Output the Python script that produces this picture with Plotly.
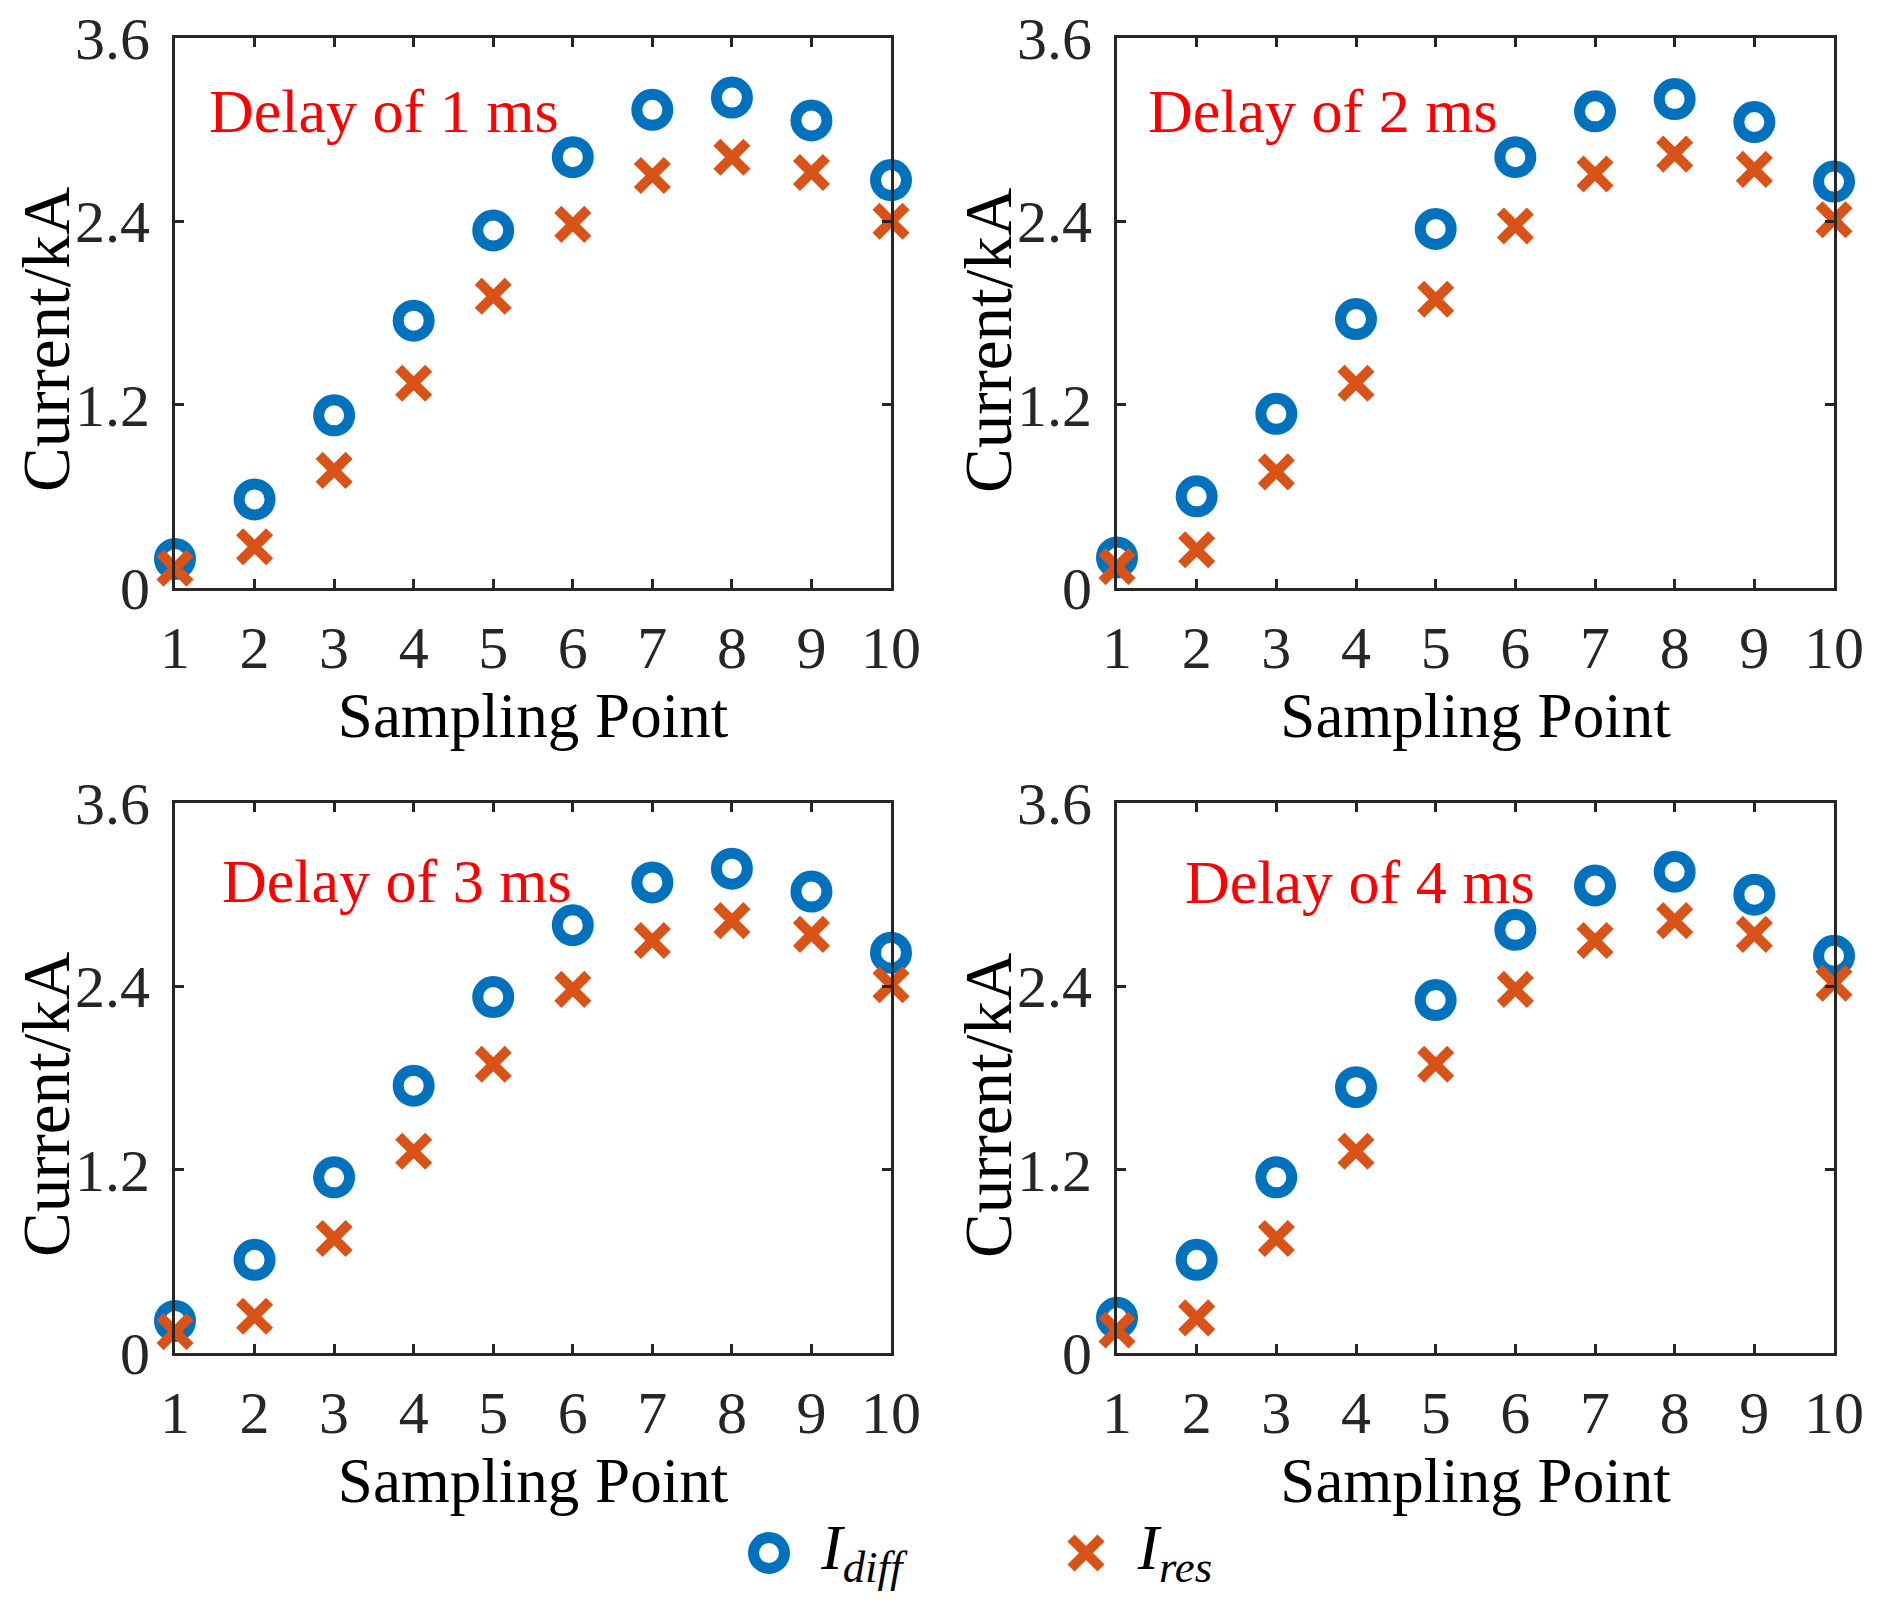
import plotly.graph_objects as go

sampling_points = [1, 2, 3, 4, 5, 6, 7, 8, 9, 10]
y_ticks = [0, 1.2, 2.4, 3.6]
y_tick_labels = ["0", "1.2", "2.4", "3.6"]
panel_titles = ["Delay of 1 ms", "Delay of 2 ms", "Delay of 3 ms", "Delay of 4 ms"]
x_title = "Sampling Point"
y_title = "Current/kA"
series_keys = ["Idiff", "Ires"]
series_labels = ["&nbsp;&nbsp;<i>I</i><sub><i>diff</i></sub>", "&nbsp;&nbsp;<i>I</i><sub><i>res</i></sub>"]

idiff_1ms = [0.19, 0.58, 1.13, 1.75, 2.34, 2.82, 3.13, 3.21, 3.06, 2.67]
ires_1ms = [0.13, 0.27, 0.77, 1.34, 1.91, 2.38, 2.70, 2.82, 2.72, 2.40]
idiff_2ms = [0.20, 0.60, 1.14, 1.76, 2.35, 2.82, 3.12, 3.20, 3.05, 2.66]
ires_2ms = [0.14, 0.25, 0.76, 1.34, 1.89, 2.37, 2.71, 2.84, 2.74, 2.41]
idiff_3ms = [0.21, 0.61, 1.15, 1.75, 2.33, 2.80, 3.08, 3.17, 3.02, 2.62]
ires_3ms = [0.14, 0.24, 0.75, 1.32, 1.89, 2.38, 2.70, 2.83, 2.74, 2.41]
idiff_4ms = [0.23, 0.61, 1.15, 1.74, 2.31, 2.77, 3.06, 3.15, 3.00, 2.60]
ires_4ms = [0.15, 0.23, 0.75, 1.32, 1.89, 2.38, 2.70, 2.83, 2.74, 2.42]

idiff_all = [idiff_1ms, idiff_2ms, idiff_3ms, idiff_4ms]
ires_all = [ires_1ms, ires_2ms, ires_3ms, ires_4ms]

# annotation anchor (data coords) for each panel label
label_x = [1.40, 1.36, 1.56, 1.83]
label_y = [3.12, 3.12, 3.09, 3.08]

BLUE = "#0072BD"
ORANGE = "#D95319"
AX = "#262626"
FONT = "Liberation Serif"

# the page body adds an 8 px margin, so the figure is placed inside it
OFF = 8
W, H = 1880 - 2 * OFF, 1621 - 2 * OFF


def px_x(v):
    return (v - OFF) / W


def px_y(v):
    return 1 - (v - OFF) / H


x_domains = [(px_x(175), px_x(891)), (px_x(1117), px_x(1834))]
y_domains = [(px_y(588), px_y(38)), (px_y(1353), px_y(803))]
y_title_pos = [px_y(340), px_y(1105)]
y_title_x = [px_x(46), px_x(1117 - 175 + 46)]

circle_marker = dict(symbol="circle-open", size=31, color=BLUE, line=dict(width=11, color=BLUE))
cross_marker = dict(symbol="x-thin-open", size=30, color=ORANGE, line=dict(width=10, color=ORANGE))

fig = go.Figure()
layout = {}
annotations = []
for i in range(4):
    row, col = divmod(i, 2)
    n = "" if i == 0 else str(i + 1)
    xa, ya = "x" + n, "y" + n
    fig.add_trace(go.Scatter(
        x=sampling_points, y=idiff_all[i], mode="markers", xaxis=xa, yaxis=ya,
        name="I_diff", showlegend=False, cliponaxis=False, marker=circle_marker,
    ))
    fig.add_trace(go.Scatter(
        x=sampling_points, y=ires_all[i], mode="markers", xaxis=xa, yaxis=ya,
        name="I_res", showlegend=False, cliponaxis=False, marker=cross_marker,
    ))
    common = dict(
        showline=True, linecolor=AX, linewidth=3, mirror="ticks",
        ticks="inside", ticklen=9, tickwidth=3, tickcolor=AX,
        showgrid=False, zeroline=False, automargin=False,
        ticklabeloverflow="allow",
        tickfont=dict(family=FONT, size=60, color=AX),
    )
    layout["xaxis" + n] = dict(
        common, domain=x_domains[col], anchor=ya, range=[1, 10],
        tickvals=sampling_points, ticktext=[str(v) for v in sampling_points],
        ticklabelstandoff=5,
        title=dict(text=x_title, font=dict(family=FONT, size=63, color="black"), standoff=12),
    )
    layout["yaxis" + n] = dict(
        common, domain=y_domains[row], anchor=xa, range=[0, 3.6],
        tickvals=y_ticks, ticktext=y_tick_labels,
        ticklabelstandoff=10,
    )
    annotations.append(dict(
        x=label_x[i], y=label_y[i], xref=xa, yref=ya, text=panel_titles[i],
        showarrow=False, xanchor="left", yanchor="middle",
        font=dict(family=FONT, size=62, color="#FF0000"),
    ))
    annotations.append(dict(
        x=y_title_x[col], y=y_title_pos[row],
        xref="paper", yref="paper", text=y_title, textangle=-90,
        showarrow=False, xanchor="center", yanchor="middle",
        font=dict(family=FONT, size=67, color="black"),
    ))

# legend row drawn as its own small categorical axis
fig.add_trace(go.Scatter(
    x=series_keys[:1], y=[0], mode="markers+text", xaxis="x5", yaxis="y5",
    text=series_labels[:1], textposition="middle right",
    textfont=dict(family=FONT, size=64, color="black"),
    showlegend=False, cliponaxis=False, marker=circle_marker, hoverinfo="skip",
))
fig.add_trace(go.Scatter(
    x=series_keys[1:], y=[0], mode="markers+text", xaxis="x5", yaxis="y5",
    text=series_labels[1:], textposition="middle right",
    textfont=dict(family=FONT, size=64, color="black"),
    showlegend=False, cliponaxis=False, marker=cross_marker, hoverinfo="skip",
))
hidden = dict(visible=False, showgrid=False, zeroline=False, automargin=False, fixedrange=True)
layout["xaxis5"] = dict(hidden, type="category", categoryarray=series_keys,
                        domain=(px_x(769 - 0.2 * 317), px_x(1086 + 0.8 * 317)), range=[-0.2, 1.8], anchor="y5")
layout["yaxis5"] = dict(hidden, domain=(px_y(1589), px_y(1517)), range=[-1, 1], anchor="x5")

fig.update_layout(
    **layout,
    annotations=annotations,
    width=W, height=H,
    margin=dict(l=0, r=0, t=0, b=0, autoexpand=False),
    paper_bgcolor="white", plot_bgcolor="white",
    showlegend=False,
)

fig.write_html("out.html")
